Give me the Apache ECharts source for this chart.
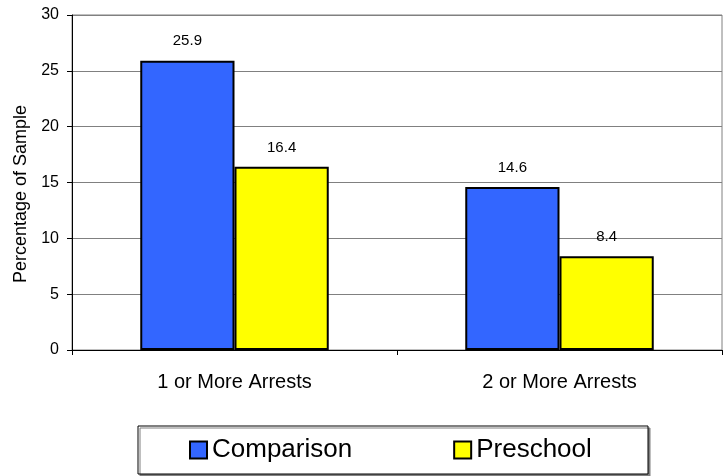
<!DOCTYPE html>
<html>
<head>
<meta charset="utf-8">
<script src="https://cdn.jsdelivr.net/npm/echarts@6/dist/echarts.min.js"></script>
<style>
  html, body { margin: 0; padding: 0; background: #fff; }
  #chart { width: 725px; height: 476px; }
</style>
</head>
<body>
<div id="chart"></div>
<script>
// Share of each group with arrests
const categories = ['1 or More Arrests', '2 or More Arrests'];
const comparison = [25.9, 14.6];
const preschool = [16.4, 8.4];
const seriesNames = ['Comparison', 'Preschool'];
const yTicks = { min: 0, max: 30, interval: 5 };

const FONT = '"Liberation Sans", Arial, sans-serif';

const chart = echarts.init(document.getElementById('chart'), null, { renderer: 'canvas' });

const labelStyle = {
  show: true,
  position: 'top',
  distance: 12,
  color: '#000',
  fontFamily: FONT,
  fontSize: 15
};

chart.setOption({
  animation: false,
  backgroundColor: '#fff',
  grid: {
    left: 72, right: 3, top: 15, bottom: 126,
    show: true, borderColor: '#808080', borderWidth: 1
  },
  graphic: [{
    type: 'rect',
    z: 0,
    shape: { x: 138, y: 426, width: 510, height: 48 },
    style: {
      fill: '#fff', stroke: '#000', lineWidth: 1,
      shadowColor: '#808080', shadowOffsetX: 2, shadowOffsetY: 2, shadowBlur: 0
    }
  }],
  legend: {
    left: 189, top: 437, padding: 0, z: 10,
    itemWidth: 17, itemHeight: 17, itemGap: 101,
    icon: 'rect',
    textStyle: { fontFamily: FONT, fontSize: 26, color: '#000' },
    data: seriesNames
  },
  xAxis: {
    type: 'category',
    data: categories,
    axisLine: { lineStyle: { color: '#000', width: 1 } },
    axisTick: { show: true, length: 5, lineStyle: { color: '#000' } },
    axisLabel: { margin: 22, color: '#000', fontFamily: FONT, fontSize: 20 },
    splitLine: { show: false }
  },
  yAxis: {
    type: 'value',
    min: yTicks.min, max: yTicks.max, interval: yTicks.interval,
    name: 'Percentage of Sample',
    nameLocation: 'middle',
    nameGap: 42,
    nameRotate: 90,
    nameTextStyle: { fontFamily: FONT, fontSize: 18, color: '#000', padding: [0, 23, 0, 0] },
    axisLine: { show: true, lineStyle: { color: '#000', width: 1 } },
    axisTick: { show: true, length: 5, lineStyle: { color: '#000' } },
    axisLabel: { margin: 13, color: '#000', fontFamily: FONT, fontSize: 16 },
    splitLine: { show: true, lineStyle: { color: '#808080', width: 1 } }
  },
  series: [
    {
      name: seriesNames[0], type: 'bar', data: comparison,
      barGap: '0%', barCategoryGap: '42%',
      itemStyle: { color: '#3366FF', borderColor: '#000', borderWidth: 2 },
      label: labelStyle
    },
    {
      name: seriesNames[1], type: 'bar', data: preschool,
      itemStyle: { color: '#FFFF00', borderColor: '#000', borderWidth: 2 },
      label: labelStyle
    }
  ]
});
</script>
</body>
</html>
